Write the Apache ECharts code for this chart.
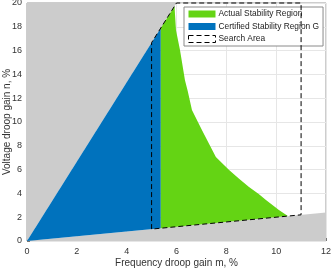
<!DOCTYPE html>
<html>
<head>
<meta charset="utf-8">
<script src="https://cdn.jsdelivr.net/npm/echarts@6/dist/echarts.min.js"></script>
<style>html,body{margin:0;padding:0;background:#fff}#c{width:332px;height:273px}</style>
</head>
<body>
<div id="c"></div>
<script>
// Axis ticks
const xTicks = [0, 2, 4, 6, 8, 10, 12];
const yTicks = [0, 2, 4, 6, 8, 10, 12, 14, 16, 18, 20];
// Infeasible (grey) regions outside the droop cone
const grayUpper = [[0, 0], [6, 20], [0, 20]];
const grayLower = [[0, 0], [12, 2.4], [12, 0]];
// Certified Stability Region G
const certifiedRegion = [[0, 0], [5.37, 17.9], [5.37, 1.074]];
// Actual Stability Region (boundary, clockwise)
const actualRegion = [
  [5.37, 1.074], [5.37, 17.9], [5.92, 19.73], [5.98, 17.7], [6.14, 16.05],
  [6.34, 13.5], [6.45, 12.6], [6.62, 11.0], [7.02, 9.33], [7.3, 8.2],
  [7.58, 7.06], [8.11, 5.97], [8.5, 5.25], [8.91, 4.54], [9.3, 3.95],
  [9.59, 3.45], [10.11, 2.6], [10.47, 2.094]
];
// Search Area (closed dashed outline)
const searchArea = [[5, 1], [5, 16.67], [6, 20], [11, 20], [11, 2.2], [5, 1]];

function polySeries(name, pts, fill, z) {
  return {
    name: name, type: 'custom', z: z, clip: true, silent: true,
    data: pts, encode: {x: 0, y: 1},
    itemStyle: {color: fill},
    renderItem: function (params, api) {
      if (params.dataIndex !== 0) return null;
      return {type: 'polygon', shape: {points: pts.map(p => api.coord(p))}, style: {fill: fill}};
    }
  };
}
function outlineSeries(name, pts, z) {
  return {
    name: name, type: 'custom', z: z, clip: false, silent: true,
    data: pts, encode: {x: 0, y: 1},
    itemStyle: {color: '#000'},
    renderItem: function (params, api) {
      if (params.dataIndex !== 0) return null;
      return {type: 'polyline', shape: {points: pts.map(p => api.coord(p))},
        style: {fill: null, stroke: '#000', lineWidth: 1, lineDash: [5, 3]}};
    }
  };
}

const chart = echarts.init(document.getElementById('c'), null, {renderer: 'canvas'});
const font = 'Liberation Sans, Arial, sans-serif';
chart.setOption({
  animation: false,
  grid: {left: 27, right: 6, top: 3, bottom: 32, containLabel: false, outerBoundsMode: 'none',
    show: true, borderColor: '#9a9a9a', borderWidth: 1, backgroundColor: 'transparent'},
  xAxis: {
    type: 'value', min: xTicks[0], max: xTicks[xTicks.length - 1], interval: 2,
    name: 'Frequency droop gain m, %', nameLocation: 'middle', nameGap: 17, nameMoveOverlap: false,
    nameTextStyle: {fontFamily: font, fontSize: 10, color: '#333'},
    axisLine: {show: false}, axisTick: {inside: true, length: 3, lineStyle: {color: '#777'}},
    axisLabel: {fontFamily: font, fontSize: 9, color: '#333', margin: 6},
    splitLine: {show: true, lineStyle: {color: '#e6e6e6', width: 1}}
  },
  yAxis: {
    type: 'value', min: yTicks[0], max: yTicks[yTicks.length - 1], interval: 2,
    name: 'Voltage droop gain n, %', nameLocation: 'middle', nameGap: 15, nameMoveOverlap: false,
    nameTextStyle: {fontFamily: font, fontSize: 10, color: '#333'},
    axisLine: {show: false}, axisTick: {inside: true, length: 3, lineStyle: {color: '#777'}},
    axisLabel: {fontFamily: font, fontSize: 9, color: '#333', margin: 5},
    splitLine: {show: true, lineStyle: {color: '#e6e6e6', width: 1}}
  },
  legend: {
    orient: 'vertical', left: 184, top: 7, padding: [3, 4, 3, 4],
    backgroundColor: '#fff', borderColor: '#8a8a8a', borderWidth: 1,
    itemWidth: 27, itemHeight: 7, itemGap: 4.5,
    textStyle: {fontFamily: font, fontSize: 8.4, lineHeight: 8, color: '#222', padding: [0, 0, 0, -2]},
    data: [
      {name: 'Actual Stability Region', icon: 'rect', itemStyle: {color: '#64D414'}},
      {name: 'Certified Stability Region G', icon: 'rect', itemStyle: {color: '#0072BD'}},
      {name: 'Search Area', icon: 'rect', itemStyle: {color: 'rgba(0,0,0,0)', borderColor: '#000', borderWidth: 1, borderType: [5, 3]}}
    ]
  },
  series: [
    polySeries('grayU', grayUpper, '#cccccc', 2),
    polySeries('grayL', grayLower, '#cccccc', 2),
    polySeries('Certified Stability Region G', certifiedRegion, '#0072BD', 3),
    polySeries('Actual Stability Region', actualRegion, '#64D414', 3),
    outlineSeries('Search Area', searchArea, 4)
  ]
});
</script>
</body>
</html>
